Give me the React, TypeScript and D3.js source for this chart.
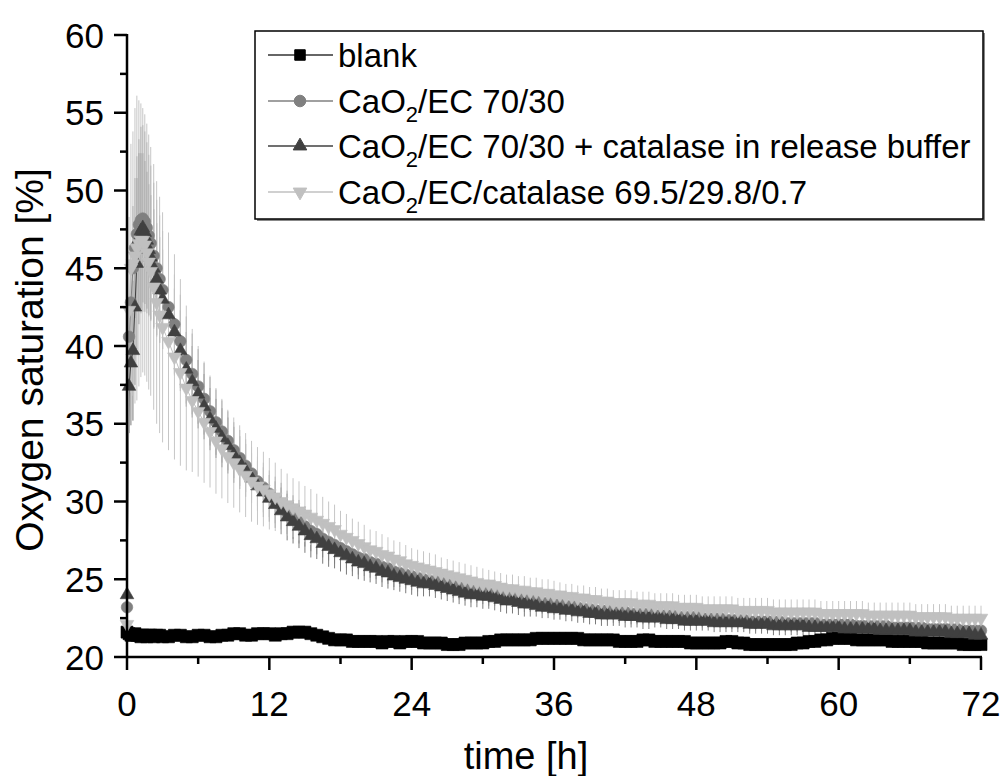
import React, { useEffect, useRef } from "react";
import * as d3 from "d3";

// time [h]
const TIME = [
  0, 0.17, 0.33, 0.5, 0.67, 0.83, 1, 1.17, 1.33, 1.5, 1.67, 1.83, 2, 2.25, 2.5, 2.75, 3,
  3.5, 4, 4.5, 5, 5.5, 6, 6.5, 7, 7.5, 8,
  8.5, 9, 9.5, 10, 10.5, 11, 11.5, 12, 12.5, 13,
  13.5, 14, 14.5, 15, 15.5, 16, 16.5, 17, 17.5, 18,
  18.5, 19, 19.5, 20, 20.5, 21, 21.5, 22, 22.5, 23,
  23.5, 24,
  24.5, 25, 25.5, 26, 26.5, 27, 27.5, 28, 28.5, 29,
  29.5, 30, 30.5, 31, 31.5, 32, 32.5, 33, 33.5, 34,
  34.5, 35, 35.5, 36, 36.5, 37, 37.5, 38, 38.5, 39,
  39.5, 40, 40.5, 41, 41.5, 42, 42.5, 43, 43.5, 44,
  44.5, 45, 45.5, 46, 46.5, 47, 47.5, 48, 48.5, 49,
  49.5, 50, 50.5, 51, 51.5, 52, 52.5, 53, 53.5, 54,
  54.5, 55, 55.5, 56, 56.5, 57, 57.5, 58, 58.5, 59,
  59.5, 60, 60.5, 61, 61.5, 62, 62.5, 63, 63.5, 64,
  64.5, 65, 65.5, 66, 66.5, 67, 67.5, 68, 68.5, 69,
  69.5, 70, 70.5, 71, 71.5, 72,
];

const BLANK = [
  21.6, 21.5, 21.4, 21.4, 21.5, 21.4, 21.4, 21.3, 21.4, 21.4, 21.3, 21.4, 21.4, 21.3, 21.4, 21.4, 21.3,
  21.3, 21.4, 21.4, 21.3, 21.3, 21.4, 21.4, 21.3, 21.3, 21.4,
  21.4, 21.5, 21.5, 21.4, 21.4, 21.5, 21.5, 21.5, 21.4, 21.5,
  21.5, 21.6, 21.6, 21.6, 21.5, 21.4, 21.3, 21.2, 21.1, 21.1,
  21.1, 21.0, 21.0, 21.0, 21.0, 21.0, 20.9, 21.0, 21.0, 20.9,
  21.0, 21.0,
  21.0, 20.9, 20.9, 20.9, 20.9, 20.8, 20.8, 20.8, 20.9, 20.9,
  20.9, 20.9, 21.0, 21.0, 21.1, 21.1, 21.1, 21.1, 21.1, 21.1,
  21.2, 21.2, 21.2, 21.2, 21.2, 21.2, 21.2, 21.2, 21.1, 21.1,
  21.1, 21.1, 21.1, 21.1, 21.0, 21.0, 21.0, 21.0, 21.1, 21.1,
  21.0, 21.0, 21.0, 21.0, 21.0, 21.0, 20.9, 20.9, 20.9, 20.9,
  20.9, 20.9, 21.0, 21.0, 20.9, 20.9, 20.8, 20.8, 20.8, 20.8,
  20.8, 20.8, 20.8, 20.8, 20.9, 20.9, 21.0, 21.0, 21.1, 21.1,
  21.2, 21.2, 21.2, 21.2, 21.1, 21.1, 21.1, 21.1, 21.1, 21.1,
  21.0, 21.0, 21.0, 21.0, 21.0, 21.0, 20.9, 20.9, 20.9, 20.9,
  20.9, 20.9, 20.8, 20.8, 20.8, 20.8,
];

const CAO2_EC = [
  23.2, 40.6, 42.8, 45.0, 46.3, 47.2, 47.8, 48.1, 48.2, 48.0, 47.6, 47.1, 46.6, 45.8, 45.0, 44.3, 43.6,
  42.5, 41.4, 40.3, 39.1, 38.2, 37.4, 36.6, 35.8, 35.1, 34.5,
  33.9, 33.3, 32.8, 32.3, 31.8, 31.3, 30.9, 30.5, 30.1, 29.7,
  29.3, 29.0, 28.7, 28.4, 28.1, 27.9, 27.6, 27.4, 27.2, 27.0,
  26.8, 26.6, 26.4, 26.3, 26.1, 26.0, 25.8, 25.7, 25.5, 25.4,
  25.3, 25.2,
  25.1, 25.0, 24.9, 24.9, 24.8, 24.7, 24.6, 24.5, 24.4, 24.3,
  24.3, 24.2, 24.1, 24.1, 24.0, 23.9, 23.9, 23.8, 23.7, 23.7,
  23.6, 23.5, 23.5, 23.4, 23.4, 23.3, 23.3, 23.2, 23.1, 23.1,
  23.0, 23.0, 23.0, 22.9, 22.9, 22.9, 22.8, 22.8, 22.8, 22.8,
  22.7, 22.7, 22.7, 22.7, 22.6, 22.6, 22.6, 22.6, 22.5, 22.5,
  22.5, 22.5, 22.4, 22.4, 22.4, 22.4, 22.3, 22.3, 22.3, 22.3,
  22.3, 22.3, 22.2, 22.2, 22.2, 22.2, 22.2, 22.2, 22.1, 22.1,
  22.1, 22.1, 22.1, 22.1, 22.0, 22.0, 22.0, 22.0, 22.0, 22.0,
  21.9, 21.9, 21.9, 21.9, 21.9, 21.9, 21.8, 21.8, 21.8, 21.8,
  21.8, 21.8, 21.7, 21.7, 21.7, 21.7,
];
const CAO2_EC_SD = [
  0.4, 2.5, 3.5, 4.0, 4.5, 5.0, 5.5, 6.0, 6.0, 5.8, 5.5, 5.2, 5.0, 4.7, 4.4, 4.1, 3.8,
  3.5, 3.2, 3.0, 2.8, 2.6, 2.4, 2.3, 2.2, 2.1, 2.0,
  1.9, 1.8, 1.8, 1.7, 1.7, 1.6, 1.6, 1.5, 1.5, 1.5,
  1.4, 1.4, 1.4, 1.3, 1.3, 1.3, 1.2, 1.2, 1.2, 1.2,
  1.1, 1.1, 1.1, 1.1, 1.0, 1.0, 1.0, 1.0, 1.0, 0.9,
  0.9, 0.9,
  0.9, 0.8, 0.8, 0.8, 0.8, 0.8, 0.8, 0.8, 0.8, 0.8,
  0.8, 0.8, 0.8, 0.8, 0.8, 0.8, 0.8, 0.8, 0.8, 0.8,
  0.7, 0.7, 0.7, 0.7, 0.7, 0.7, 0.7, 0.7, 0.7, 0.7,
  0.7, 0.7, 0.7, 0.7, 0.7, 0.7, 0.7, 0.7, 0.7, 0.7,
  0.6, 0.6, 0.6, 0.6, 0.6, 0.6, 0.6, 0.6, 0.6, 0.6,
  0.6, 0.6, 0.6, 0.6, 0.6, 0.6, 0.6, 0.6, 0.6, 0.6,
  0.6, 0.6, 0.6, 0.6, 0.6, 0.6, 0.6, 0.6, 0.6, 0.6,
  0.6, 0.6, 0.6, 0.6, 0.6, 0.6, 0.6, 0.6, 0.6, 0.6,
  0.5, 0.5, 0.5, 0.5, 0.5, 0.5, 0.5, 0.5, 0.5, 0.5,
  0.5, 0.5, 0.5, 0.5, 0.5, 0.5,
];

const CAO2_EC_CATBUF = [
  24.0, 37.4, 38.9, 39.7, 42.5, 45.3, 46.9, 47.4, 47.6, 47.3, 46.8, 46.2, 45.7, 45.0, 44.3, 43.6, 43.0,
  42.0, 40.9, 39.7, 38.5, 37.7, 36.9, 36.1, 35.3, 34.7, 34.1,
  33.6, 33.0, 32.5, 32.0, 31.5, 31.0, 30.6, 30.2, 29.8, 29.4,
  29.0, 28.7, 28.4, 28.1, 27.8, 27.6, 27.3, 27.1, 26.9, 26.7,
  26.5, 26.3, 26.1, 26.0, 25.8, 25.7, 25.5, 25.4, 25.2, 25.1,
  25.0, 24.9,
  24.8, 24.7, 24.7, 24.6, 24.5, 24.4, 24.3, 24.2, 24.1, 24.0,
  24.0, 23.9, 23.9, 23.8, 23.7, 23.6, 23.6, 23.5, 23.4, 23.4,
  23.3, 23.2, 23.2, 23.1, 23.1, 23.0, 23.0, 22.9, 22.9, 22.8,
  22.8, 22.7, 22.7, 22.7, 22.7, 22.6, 22.6, 22.6, 22.5, 22.5,
  22.5, 22.5, 22.4, 22.4, 22.4, 22.3, 22.3, 22.3, 22.3, 22.3,
  22.2, 22.2, 22.2, 22.2, 22.2, 22.2, 22.1, 22.1, 22.1, 22.1,
  22.0, 22.0, 22.0, 22.0, 22.0, 22.0, 21.9, 21.9, 21.9, 21.9,
  21.9, 21.9, 21.8, 21.8, 21.8, 21.8, 21.8, 21.8, 21.7, 21.7,
  21.7, 21.7, 21.7, 21.7, 21.6, 21.6, 21.6, 21.6, 21.6, 21.6,
  21.5, 21.5, 21.5, 21.5, 21.4, 21.4,
];
const CAO2_EC_CATBUF_SD = [
  0.4, 3.0, 4.0, 4.5, 5.0, 5.5, 5.5, 5.0, 4.8, 4.6, 4.4, 4.2, 4.0, 3.8, 3.6, 3.4, 3.2,
  3.0, 2.8, 2.6, 2.4, 2.3, 2.2, 2.1, 2.0, 1.9, 1.9,
  1.8, 1.8, 1.7, 1.7, 1.6, 1.6, 1.6, 1.5, 1.5, 1.5,
  1.5, 1.4, 1.4, 1.4, 1.4, 1.3, 1.3, 1.3, 1.2, 1.2,
  1.2, 1.1, 1.1, 1.1, 1.0, 1.0, 1.0, 1.0, 0.9, 0.9,
  0.9, 0.9,
  0.9, 0.8, 0.8, 0.8, 0.8, 0.8, 0.8, 0.8, 0.8, 0.8,
  0.8, 0.8, 0.8, 0.8, 0.8, 0.8, 0.8, 0.8, 0.8, 0.8,
  0.7, 0.7, 0.7, 0.7, 0.7, 0.7, 0.7, 0.7, 0.7, 0.7,
  0.7, 0.7, 0.7, 0.7, 0.7, 0.7, 0.7, 0.7, 0.7, 0.7,
  0.6, 0.6, 0.6, 0.6, 0.6, 0.6, 0.6, 0.6, 0.6, 0.6,
  0.6, 0.6, 0.6, 0.6, 0.6, 0.6, 0.6, 0.6, 0.6, 0.6,
  0.6, 0.6, 0.6, 0.6, 0.6, 0.6, 0.6, 0.6, 0.6, 0.6,
  0.6, 0.6, 0.6, 0.6, 0.6, 0.6, 0.6, 0.6, 0.6, 0.6,
  0.5, 0.5, 0.5, 0.5, 0.5, 0.5, 0.5, 0.5, 0.5, 0.5,
  0.5, 0.5, 0.5, 0.5, 0.5, 0.5,
];

const CAO2_EC_CAT = [
  22.1, 42.3, 45.0, 45.3, 45.8, 46.3, 46.6, 46.8, 46.8, 46.5, 46.0, 45.4, 44.8, 43.8, 42.8, 42.0, 41.2,
  40.3, 39.3, 38.3, 37.3, 36.5, 35.8, 35.1, 34.5, 33.9, 33.4,
  32.9, 32.5, 32.1, 31.7, 31.3, 31.0, 30.8, 30.5, 30.3, 30.0,
  29.8, 29.6, 29.4, 29.2, 29.0, 28.8, 28.6, 28.4, 28.2, 27.9,
  27.7, 27.5, 27.3, 27.1, 26.9, 26.8, 26.6, 26.5, 26.3, 26.2,
  26.0, 25.9,
  25.8, 25.7, 25.6, 25.5, 25.4, 25.3, 25.2, 25.1, 25.0, 24.9,
  24.8, 24.7, 24.7, 24.6, 24.5, 24.4, 24.4, 24.3, 24.3, 24.2,
  24.2, 24.1, 24.1, 24.0, 24.0, 23.9, 23.9, 23.8, 23.8, 23.7,
  23.7, 23.6, 23.6, 23.5, 23.5, 23.5, 23.5, 23.4, 23.4, 23.4,
  23.3, 23.3, 23.3, 23.3, 23.2, 23.2, 23.2, 23.2, 23.1, 23.1,
  23.1, 23.1, 23.1, 23.1, 23.0, 23.0, 23.0, 23.0, 23.0, 23.0,
  22.9, 22.9, 22.9, 22.9, 22.9, 22.9, 22.9, 22.9, 22.8, 22.8,
  22.8, 22.8, 22.8, 22.8, 22.8, 22.8, 22.7, 22.7, 22.7, 22.7,
  22.7, 22.7, 22.7, 22.7, 22.6, 22.6, 22.6, 22.6, 22.6, 22.6,
  22.5, 22.5, 22.5, 22.5, 22.5, 22.5,
];
const CAO2_EC_CAT_SD = [
  0.5, 6.0, 8.0, 8.5, 9.5, 9.8, 9.2, 8.8, 8.5, 8.4, 8.3, 8.2, 8.0, 7.9, 7.8, 7.6, 7.4,
  7.0, 6.6, 6.0, 5.3, 4.6, 4.2, 3.9, 3.6, 3.4, 3.2,
  3.0, 2.9, 2.8, 2.7, 2.6, 2.5, 2.4, 2.3, 2.2, 2.1,
  2.0, 1.9, 1.9, 1.8, 1.8, 1.7, 1.7, 1.6, 1.6, 1.5,
  1.5, 1.4, 1.4, 1.4, 1.3, 1.3, 1.3, 1.2, 1.2, 1.2,
  1.2, 1.1,
  1.1, 1.1, 1.1, 1.1, 1.0, 1.0, 1.0, 1.0, 1.0, 1.0,
  1.0, 1.0, 0.9, 0.9, 0.9, 0.9, 0.9, 0.9, 0.9, 0.9,
  0.9, 0.9, 0.9, 0.9, 0.8, 0.8, 0.8, 0.8, 0.8, 0.8,
  0.8, 0.8, 0.8, 0.8, 0.8, 0.8, 0.8, 0.8, 0.8, 0.8,
  0.8, 0.8, 0.8, 0.8, 0.8, 0.8, 0.8, 0.8, 0.8, 0.8,
  0.8, 0.8, 0.8, 0.8, 0.8, 0.8, 0.8, 0.8, 0.8, 0.8,
  0.8, 0.8, 0.8, 0.8, 0.8, 0.8, 0.8, 0.8, 0.8, 0.8,
  0.8, 0.8, 0.8, 0.8, 0.8, 0.8, 0.8, 0.8, 0.8, 0.8,
  0.8, 0.8, 0.8, 0.8, 0.8, 0.8, 0.8, 0.8, 0.8, 0.8,
  0.8, 0.8, 0.8, 0.8, 0.8, 0.8,
];

const X_TICKS = [0, 12, 24, 36, 48, 60, 72];
const X_MINOR = [6, 18, 30, 42, 54, 66];
const Y_TICKS = [20, 25, 30, 35, 40, 45, 50, 55, 60];
const Y_MINOR = [22.5, 27.5, 32.5, 37.5, 42.5, 47.5, 52.5, 57.5];

type Series = {
  label: string[];
  values: number[];
  sd: number[] | null;
  color: string;
  errColor: string;
  lineColor: string;
  symbol: d3.SymbolType;
  size: number;
  rotate: number;
};

const SERIES: Series[] = [
  { label: ["blank", "", ""], values: BLANK, sd: null, color: "#000000", errColor: "#000", lineColor: "#333", symbol: d3.symbolSquare, size: 144, rotate: 0 },
  { label: ["CaO", "2", "/EC 70/30"], values: CAO2_EC, sd: CAO2_EC_SD, color: "#808080", errColor: "#9a9a9a", lineColor: "#808080", symbol: d3.symbolCircle, size: 105, rotate: 0 },
  { label: ["CaO", "2", "/EC 70/30 + catalase in release buffer"], values: CAO2_EC_CATBUF, sd: CAO2_EC_CATBUF_SD, color: "#404040", errColor: "#7a7a7a", lineColor: "#404040", symbol: d3.symbolTriangle, size: 80, rotate: 0 },
  { label: ["CaO", "2", "/EC/catalase 69.5/29.8/0.7"], values: CAO2_EC_CAT, sd: CAO2_EC_CAT_SD, color: "#c0c0c0", errColor: "#c6c6c6", lineColor: "#c0c0c0", symbol: d3.symbolTriangle, size: 80, rotate: 180 },
];

const FONT = "'Liberation Sans', Arial, Helvetica, sans-serif";

export default function App() {
  const ref = useRef<SVGSVGElement>(null);

  useEffect(() => {
    const svg = d3.select(ref.current);
    svg.selectAll("*").remove();

    const x = d3.scaleLinear().domain([0, 72]).range([127, 981]);
    const y = d3.scaleLinear().domain([20, 60]).range([657, 35]);

    const errLayer = svg.append("g");
    const lineLayer = svg.append("g");
    const markLayer = svg.append("g");

    SERIES.forEach((s) => {
      if (s.sd) {
        errLayer.append("g").selectAll("line")
          .data(TIME)
          .enter()
          .append("line")
          .attr("x1", (t) => x(t))
          .attr("x2", (t) => x(t))
          .attr("y1", (_t, i) => y(s.values[i] - s.sd![i]))
          .attr("y2", (_t, i) => y(s.values[i] + s.sd![i]))
          .attr("stroke", s.errColor)
          .attr("stroke-width", 1);
      }
      const line = d3
        .line<number>()
        .x((t) => x(t))
        .y((_t, i) => y(s.values[i]));
      lineLayer.append("path")
        .attr("d", line(TIME) as string)
        .attr("fill", "none")
        .attr("stroke", s.lineColor)
        .attr("stroke-width", 1);
    });

    SERIES.forEach((s) => {
      const sym = d3.symbol().type(s.symbol).size(s.size);
      markLayer.append("g").selectAll("path")
        .data(TIME)
        .enter()
        .append("path")
        .attr("d", sym() as string)
        .attr("transform", (t, i) => `translate(${x(t)},${y(s.values[i])}) rotate(${s.rotate})`)
        .attr("fill", s.color)
        .attr("stroke", s.color)
        .attr("stroke-width", 0.6);
    });

    // axes
    const ax = svg.append("g").attr("stroke", "#000").attr("stroke-width", 2.5);
    ax.append("line").attr("x1", x(0)).attr("x2", x(72) + 1).attr("y1", y(20)).attr("y2", y(20));
    ax.append("line").attr("x1", x(0)).attr("x2", x(0)).attr("y1", y(20) + 1).attr("y2", y(60) - 1);
    X_TICKS.forEach((t) => {
      ax.append("line").attr("x1", x(t)).attr("x2", x(t)).attr("y1", y(20)).attr("y2", y(20) + 13);
    });
    X_MINOR.forEach((t) => {
      ax.append("line").attr("x1", x(t)).attr("x2", x(t)).attr("y1", y(20)).attr("y2", y(20) + 7);
    });
    Y_TICKS.forEach((v) => {
      ax.append("line").attr("x1", x(0) - 13).attr("x2", x(0)).attr("y1", y(v)).attr("y2", y(v));
    });
    Y_MINOR.forEach((v) => {
      ax.append("line").attr("x1", x(0) - 7).attr("x2", x(0)).attr("y1", y(v)).attr("y2", y(v));
    });

    const labels = svg.append("g").attr("font-family", FONT).attr("fill", "#000");
    X_TICKS.forEach((t) => {
      labels.append("text").attr("x", x(t)).attr("y", 716).attr("text-anchor", "middle").attr("font-size", 35).text(String(t));
    });
    Y_TICKS.forEach((v) => {
      labels.append("text").attr("x", x(0) - 23).attr("y", y(v) + 12.5).attr("text-anchor", "end").attr("font-size", 35).text(String(v));
    });
    labels.append("text").attr("x", 526).attr("y", 769).attr("text-anchor", "middle").attr("font-size", 38).text("time [h]");
    labels.append("text")
      .attr("transform", "translate(43,360) rotate(-90)")
      .attr("text-anchor", "middle")
      .attr("font-size", 39)
      .text("Oxygen saturation [%]");

    // legend
    const lg = svg.append("g");
    lg.append("rect").attr("x", 257).attr("y", 33).attr("width", 728).attr("height", 188).attr("fill", "#888");
    lg.append("rect").attr("x", 255).attr("y", 31).attr("width", 728).attr("height", 188).attr("fill", "#fff").attr("stroke", "#000").attr("stroke-width", 1.5);
    const rowsY = [55, 101, 146, 192];
    SERIES.forEach((s, i) => {
      const cy = rowsY[i];
      lg.append("line").attr("x1", 268).attr("x2", 333).attr("y1", cy).attr("y2", cy).attr("stroke", s.lineColor).attr("stroke-width", 1.5);
      lg.append("path")
        .attr("d", d3.symbol().type(s.symbol).size(Math.min(s.size, 110))() as string)
        .attr("transform", `translate(300,${cy}) rotate(${s.rotate})`)
        .attr("fill", s.color)
        .attr("stroke", s.color);
      const txt = lg.append("text").attr("x", 338).attr("y", cy + 11.5).attr("font-family", FONT).attr("font-size", 33).attr("fill", "#000");
      txt.append("tspan").text(s.label[0]);
      if (s.label[1]) {
        txt.append("tspan").attr("dy", 9).attr("font-size", 22).text(s.label[1]);
        txt.append("tspan").attr("dy", -9).text(s.label[2]);
      }
    });
  }, []);

  return (
    <svg
      ref={ref}
      width={1004}
      height={776}
      style={{ position: "absolute", left: 0, top: 0, background: "#fff" }}
    />
  );
}
